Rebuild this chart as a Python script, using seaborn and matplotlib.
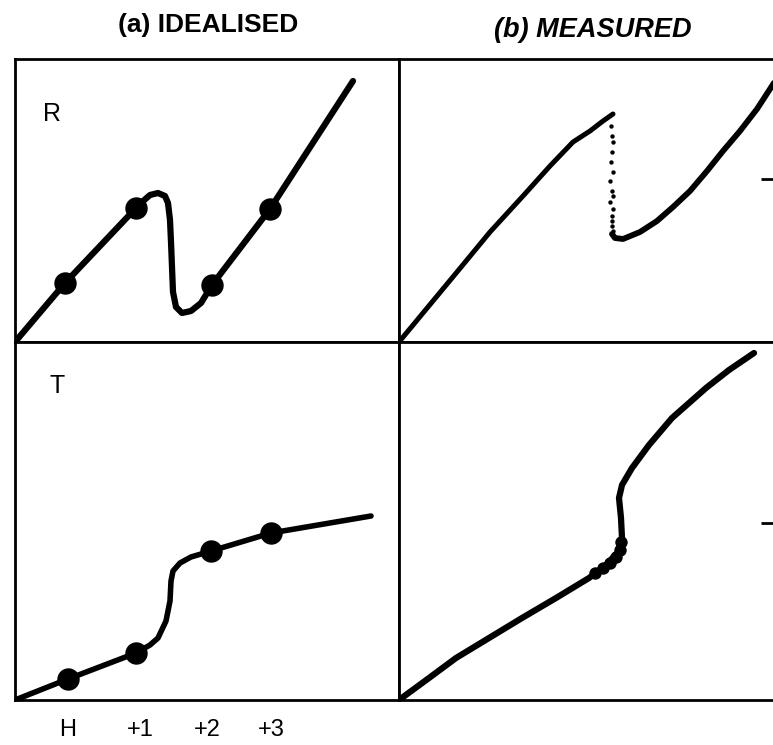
import seaborn as sns
import matplotlib.pyplot as plt

# ======================= data =======================
# units are roughly pixels inside each panel, origin at the lower-left corner

# (a) idealised R
r_ideal_x = [0, 50, 121, 127, 135, 143, 150, 153, 155, 156, 157, 158, 161, 167, 176, 186, 197, 255, 338]
r_ideal_y = [0, 59, 134, 140, 147, 149, 146, 139, 122, 100, 75, 50, 35, 29, 31, 39, 57, 133, 261]
r_dots_x = [50, 121, 197, 255]
r_dots_y = [59, 134, 57, 133]

# (b) measured R: rising branch, the jump (dotted) and the second branch
r_meas_x1 = [0, 24, 58, 91, 124, 151, 174, 191, 204, 214]
r_meas_y1 = [0, 29, 70, 110, 146, 176, 200, 211, 221, 228]
r_jump_x = [212, 213, 214, 213, 212, 214, 211, 213, 214, 211, 214, 213, 213, 213, 214]
r_jump_y = [216, 206, 200, 190, 180, 170, 161, 151, 146, 140, 133, 126, 121, 116, 111]
r_meas_x2 = [213, 216, 224, 241, 258, 274, 291, 308, 324, 341, 358, 371, 395]
r_meas_y2 = [108, 104, 103, 110, 121, 135, 151, 171, 191, 211, 233, 253, 290]

# (a) idealised T
t_ideal_x = [0, 53, 121, 135, 143, 151, 155, 156, 158, 165, 176, 196, 256, 356]
t_ideal_y = [0, 21, 47, 55, 62, 79, 99, 119, 129, 137, 143, 149, 167, 184]
t_dots_x = [53, 121, 196, 256]
t_dots_y = [21, 47, 149, 167]

# (b) measured T
t_meas_x = [0, 30, 57, 90, 123, 157, 190, 207, 220, 223, 222, 220, 223, 233, 250, 273, 307, 330, 355]
t_meas_y = [0, 22, 42, 62, 82, 102, 122, 135, 149, 162, 182, 202, 215, 232, 255, 282, 312, 330, 347]
t_blob_x = [196, 204, 211, 217, 221, 222]
t_blob_y = [127, 132, 137, 143, 150, 158]

tick_pos = [53, 125, 192, 256]
tick_lab = ['H', '+1', '+2', '+3']

# ======================= figure =======================
sns.set_theme(style="white")
plt.rcParams['font.family'] = ['Liberation Sans', 'DejaVu Sans']
plt.rcParams['text.color'] = 'black'
plt.rcParams['xtick.color'] = 'black'
plt.rcParams['ytick.color'] = 'black'

W, H = 773, 745
fig = plt.figure(figsize=(W / 100, H / 100), dpi=100)


def box(x0, y0, x1, y1):
    return [x0 / W, 1 - y1 / H, (x1 - x0) / W, (y1 - y0) / H]


ax_ra = fig.add_axes(box(15, 59, 399, 342))
ax_rb = fig.add_axes(box(399, 59, 779, 342))
ax_ta = fig.add_axes(box(15, 342, 399, 700))
ax_tb = fig.add_axes(box(399, 342, 779, 700))

line_kw = dict(color='black', sort=False, estimator=None,
               solid_capstyle='round', solid_joinstyle='round')

sns.lineplot(x=r_ideal_x, y=r_ideal_y, ax=ax_ra, linewidth=4.5, **line_kw)
sns.scatterplot(x=r_dots_x, y=r_dots_y, ax=ax_ra, s=260, color='black', linewidth=0, zorder=3)

sns.lineplot(x=r_meas_x1, y=r_meas_y1, ax=ax_rb, linewidth=3.6, **line_kw)
sns.scatterplot(x=r_jump_x, y=r_jump_y, ax=ax_rb, s=10, color='black', linewidth=0)
sns.lineplot(x=r_meas_x2, y=r_meas_y2, ax=ax_rb, linewidth=4.2, **line_kw)

sns.lineplot(x=t_ideal_x, y=t_ideal_y, ax=ax_ta, linewidth=4, **line_kw)
sns.scatterplot(x=t_dots_x, y=t_dots_y, ax=ax_ta, s=260, color='black', linewidth=0, zorder=3)

sns.lineplot(x=t_meas_x, y=t_meas_y, ax=ax_tb, linewidth=4.5, **line_kw)
sns.scatterplot(x=t_blob_x, y=t_blob_y, ax=ax_tb, s=80, color='black', linewidth=0)

# ======================= axes styling =======================
for ax, w, h in [(ax_ra, 384, 283), (ax_rb, 380, 283), (ax_ta, 384, 358), (ax_tb, 380, 358)]:
    ax.set_xlim(0, w)
    ax.set_ylim(0, h)
    ax.set_facecolor('white')
    for sp in ax.spines.values():
        sp.set_visible(True)
        sp.set_color('black')
        sp.set_linewidth(2)
    ax.tick_params(direction='in', length=13, width=2, color='black')
    ax.set_xticks([])

ax_ra.set_yticks([95])
ax_ra.set_yticklabels([])
ax_ta.set_yticks([92])
ax_ta.set_yticklabels([])

for ax, yt in [(ax_rb, 163), (ax_tb, 177)]:
    ax.yaxis.tick_right()
    ax.set_yticks([yt])
    ax.set_yticklabels([])

ax_ta.set_xticks(tick_pos)
ax_ta.set_xticklabels(tick_lab, fontsize=17)
ax_ta.tick_params(axis='x', pad=14, length=13, width=2, direction='in')

ax_ra.text(28, 228, 'R', fontsize=18, ha='left', va='center')
ax_ta.text(34, 314, 'T', fontsize=18, ha='left', va='center')

fig.text(208 / W, 1 - 25 / H, '(a) IDEALISED', fontsize=19, fontweight='bold', ha='center', va='center')
fig.text(593 / W, 1 - 30 / H, '(b) MEASURED', fontsize=19.5, fontweight='bold', style='italic',
         ha='center', va='center')

fig.savefig('out.png', dpi=100)
